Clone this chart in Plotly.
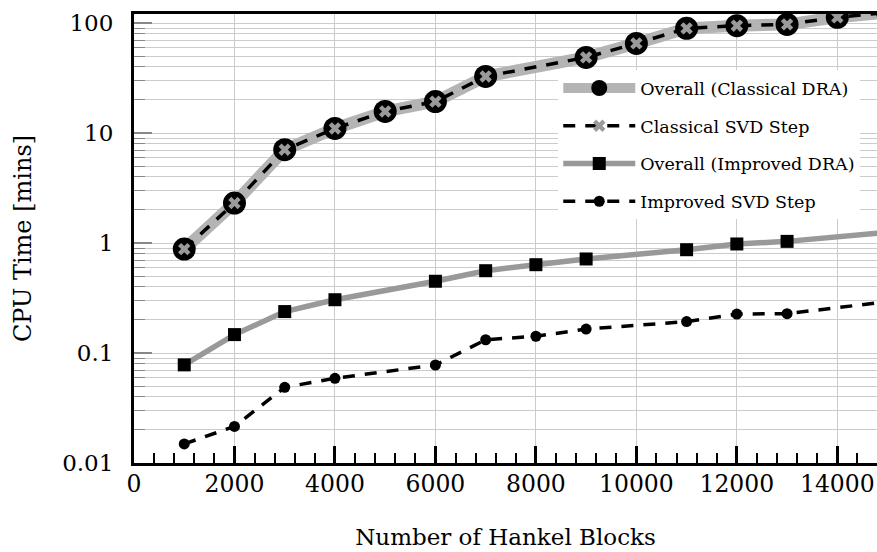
import plotly.graph_objects as go

# ---- data ----
x_classical = [1000, 2000, 3000, 4000, 5000, 6000, 7000, 9000, 10000, 11000, 12000, 13000, 14000, 15000]
overall_classical = [0.88, 2.31, 7.05, 11.0, 15.7, 19.3, 32.7, 48.7, 65.3, 89.4, 94.5, 97.2, 112.7, 125]
svd_classical = [0.88, 2.31, 7.05, 11.0, 15.7, 19.3, 32.7, 48.7, 65.3, 89.4, 94.5, 97.2, 112.7, 125]

x_improved = [1000, 2000, 3000, 4000, 6000, 7000, 8000, 9000, 11000, 12000, 13000, 15000]
overall_improved = [0.078, 0.147, 0.238, 0.305, 0.449, 0.56, 0.635, 0.716, 0.869, 0.98, 1.035, 1.25]
svd_improved = [0.0149, 0.0215, 0.0488, 0.0589, 0.0778, 0.132, 0.142, 0.165, 0.193, 0.226, 0.228, 0.293]

names = ["Overall (Classical DRA)", "Classical SVD Step", "Overall (Improved DRA)", "Improved SVD Step"]
y_tickvals = [0.01, 0.1, 1, 10, 100]
y_ticktext = ["0.01", "0.1", "1", "10", "100"]
x_tickvals = [0, 2000, 4000, 6000, 8000, 10000, 12000, 14000]
x_ticktext = ["0", "2000", "4000", "6000", "8000", "10000", "12000", "14000"]

FONT = "DejaVu Serif"

fig = go.Figure()
fig.add_trace(go.Scatter(
    x=x_classical, y=overall_classical, name=names[0], mode="lines+markers",
    line=dict(color="#b4b4b4", width=12),
    marker=dict(symbol="circle", size=23, color="black"),
    legendgroup="a"))
fig.add_trace(go.Scatter(
    x=x_classical, y=svd_classical, name=names[1], mode="lines+markers",
    line=dict(color="black", width=3.5, dash="12px,10px"),
    marker=dict(symbol="x", size=11, color="#9a9a9a", line=dict(width=0)),
    legendgroup="b"))
fig.add_trace(go.Scatter(
    x=x_improved, y=overall_improved, name=names[2], mode="lines+markers",
    line=dict(color="#999999", width=5.5),
    marker=dict(symbol="square", size=13, color="black"),
    legendgroup="c"))
fig.add_trace(go.Scatter(
    x=x_improved, y=svd_improved, name=names[3], mode="lines+markers",
    line=dict(color="black", width=3.5, dash="12px,10px"),
    marker=dict(symbol="circle", size=11, color="black"),
    legendgroup="d"))

minor_y = [k * 10.0 ** d for d in range(-2, 3) for k in range(2, 10)]

fig.update_layout(
    width=877, height=552,
    margin=dict(l=134, r=0, t=14, b=89, autoexpand=False),
    paper_bgcolor="white", plot_bgcolor="white",
    font=dict(family=FONT, color="black", size=23),
    showlegend=True,
    legend=dict(
        x=0.571, xanchor="left", y=0.875, yanchor="top",
        bgcolor="white", borderwidth=0,
        font=dict(family=FONT, size=17.5, color="black"),
        itemwidth=72, traceorder="grouped", tracegroupgap=12,
    ),
    xaxis=dict(
        range=[0, 14790],
        tickvals=x_tickvals, ticktext=x_ticktext,
        ticks="inside", ticklen=17, tickwidth=2.5, tickcolor="black",
        showline=True, linecolor="black", linewidth=3, mirror=True,
        showgrid=True, gridcolor="#cccccc", gridwidth=1.2,
        zeroline=False,
        tickfont=dict(family=FONT, size=23.5),
        ticklabelstandoff=-2,
        minor=dict(dtick=400, tick0=0, ticks="inside", ticklen=10, tickwidth=2, tickcolor="black", showgrid=False),
        title=dict(text="Number of Hankel Blocks", font=dict(family=FONT, size=23), standoff=32),
        automargin=False,
    ),
    yaxis=dict(
        type="log", range=[-2, 2.082],
        tickvals=y_tickvals, ticktext=y_ticktext,
        ticks="inside", ticklen=18, tickwidth=1.5, tickcolor="#888888",
        showline=True, linecolor="black", linewidth=3, mirror=False,
        showgrid=True, gridcolor="#cccccc", gridwidth=1.2,
        zeroline=False,
        tickfont=dict(family=FONT, size=23),
        ticklabelstandoff=13,
        minor=dict(tickvals=minor_y, ticks="inside", ticklen=11, tickwidth=1.2, tickcolor="#888888",
                   showgrid=True, gridcolor="#cccccc", gridwidth=1.2),
        title=dict(text="CPU Time [mins]", font=dict(family=FONT, size=24), standoff=24),
        automargin=False,
    ),
)

fig.write_html("out.html")
